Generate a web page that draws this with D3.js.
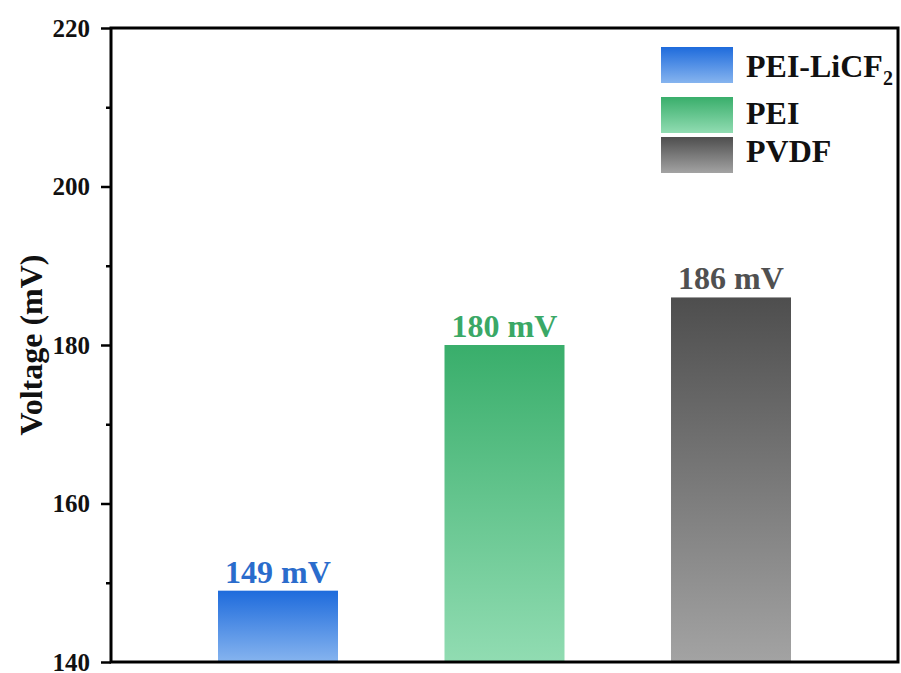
<!DOCTYPE html>
<html>
<head>
<meta charset="utf-8">
<script src="https://cdn.jsdelivr.net/npm/d3@7"></script>
<style>
  html, body { margin: 0; padding: 0; background: #fff; }
  svg { display: block; }
</style>
</head>
<body>
<svg id="chart" width="901" height="673"></svg>
<script>
// Membrane samples and measured voltages
const categories = ["PEI-LiCF2", "PEI", "PVDF"];
const voltages = [149, 180, 186];
const valueLabels = ["149 mV", "180 mV", "186 mV"];
const majorTicks = [140, 160, 180, 200, 220];
const minorTicks = [150, 170, 190, 210];

// Gradient stops per sample (top colour, bottom colour) and label colour
const topColors = ["#1e6bdc", "#39ae6b", "#4e4e4e"];
const bottomColors = ["#86b4ef", "#91dcb2", "#a3a3a3"];
const labelColors = ["#2a6ccc", "#3aa866", "#505050"];

const FONT = "'Liberation Serif', 'Times New Roman', Times, 'DejaVu Serif', serif";

const svg = d3.select("#chart");
const margin = { left: 111, right: 3, top: 28, bottom: 11 };
const W = 901, H = 673;
const plotW = W - margin.left - margin.right;
const plotH = H - margin.top - margin.bottom;

const y = d3.scaleLinear().domain([140, 220]).range([plotH, 0]);
// Bars are 120px wide, centred at even intervals along the plot
const bw = 120;
const centers = d3.scalePoint().domain(categories).range([167, 620]);

const defs = svg.append("defs");
categories.forEach((c, i) => {
  const g = defs.append("linearGradient")
    .attr("id", "grad" + i).attr("x1", 0).attr("y1", 0).attr("x2", 0).attr("y2", 1);
  g.append("stop").attr("offset", "0%").attr("stop-color", topColors[i]);
  g.append("stop").attr("offset", "100%").attr("stop-color", bottomColors[i]);
});

const g = svg.append("g").attr("transform", `translate(${margin.left},${margin.top})`);

// Bars
g.selectAll("rect.bar").data(categories).enter().append("rect")
  .attr("class", "bar")
  .attr("x", (d) => centers(d) - bw / 2)
  .attr("width", bw)
  .attr("y", (d, i) => y(voltages[i]))
  .attr("height", (d, i) => plotH - y(voltages[i]))
  .attr("fill", (d, i) => `url(#grad${i})`);

// Value labels
g.selectAll("text.val").data(categories).enter().append("text")
  .attr("class", "val")
  .attr("x", (d) => centers(d))
  .attr("y", (d, i) => y(voltages[i]) - 8)
  .attr("text-anchor", "middle")
  .attr("font-family", FONT).attr("font-weight", "bold")
  .attr("font-size", 32)
  .attr("fill", (d, i) => labelColors[i])
  .text((d, i) => valueLabels[i]);

// Y axis: major ticks with labels, minor ticks without
const yAxis = d3.axisLeft(y).tickValues(majorTicks).tickSize(10).tickPadding(11).tickFormat(d3.format("d"));
const ya = g.append("g").call(yAxis).attr("font-family", FONT).attr("font-weight", "bold");
ya.select(".domain").remove();
ya.selectAll(".tick line").attr("stroke", "#000").attr("stroke-width", 2.5);
ya.selectAll(".tick text").attr("font-size", 25).attr("fill", "#111");

const yMinor = d3.axisLeft(y).tickValues(minorTicks).tickSize(5).tickFormat("");
const ym = g.append("g").call(yMinor);
ym.select(".domain").remove();
ym.selectAll(".tick line").attr("stroke", "#000").attr("stroke-width", 2.5);

// Frame around the plot area
g.append("rect").attr("x", 0).attr("y", 0).attr("width", plotW).attr("height", plotH)
  .attr("fill", "none").attr("stroke", "#000").attr("stroke-width", 3);

// Y axis title
svg.append("text")
  .attr("transform", `translate(42,${margin.top + plotH / 2}) rotate(-90)`)
  .attr("text-anchor", "middle")
  .attr("font-family", FONT).attr("font-weight", "bold")
  .attr("font-size", 32)
  .attr("fill", "#111")
  .text("Voltage (mV)");

// Legend
const legendY = [47, 97, 137];
const legendBase = [77, 124, 162];
const leg = svg.append("g");
categories.forEach((c, i) => {
  leg.append("rect").attr("x", 661).attr("y", legendY[i]).attr("width", 72).attr("height", 36)
    .attr("fill", `url(#grad${i})`);
  const t = leg.append("text").attr("x", 746).attr("y", legendBase[i])
    .attr("font-family", FONT).attr("font-weight", "bold")
    .attr("font-size", 32).attr("fill", "#111");
  if (c === "PEI-LiCF2") {
    t.append("tspan").text("PEI-LiCF");
    t.append("tspan").attr("font-size", 20).attr("dy", 8).text("2");
  } else {
    t.text(c);
  }
});
</script>
</body>
</html>
